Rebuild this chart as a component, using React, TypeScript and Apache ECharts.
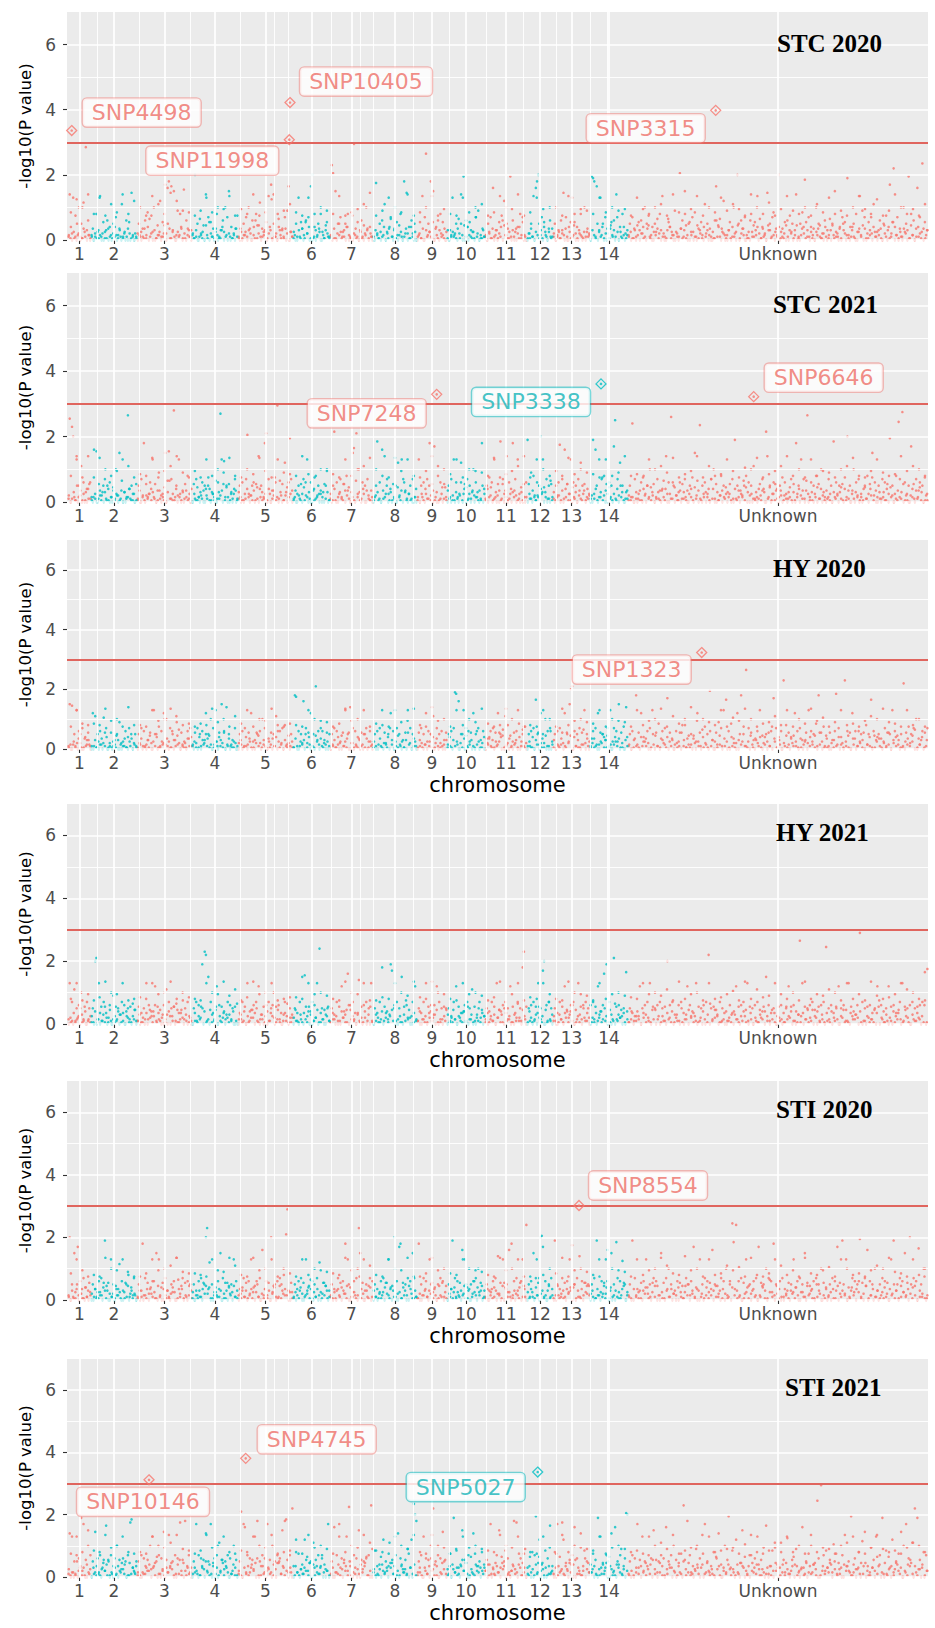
import React, { useEffect, useRef } from "react";
import * as echarts from "echarts";

// ---------- axes / categories ----------
const CHROMOSOMES = ["1", "2", "3", "4", "5", "6", "7", "8", "9", "10", "11", "12", "13", "14", "Unknown"];
const CHR_LENGTHS = [23, 46, 55, 46, 55, 37, 43, 44, 30, 38, 42, 26, 37, 38, 300];
const FIRST_START = 1;
const X_MIN = 0;
const X_MAX = 861;
const EXTRA_MINOR_X = [207, 293, 540];
const Y_MIN = 0;
const Y_MAX = 7;
const Y_TICKS = [0, 2, 4, 6];
const Y_MINOR = [1, 3, 5];
const THRESHOLD = 3;
const PANEL_TITLES = ["STC 2020", "STC 2021", "HY 2020", "HY 2021", "STI 2020", "STI 2021"];
const SHOW_X_NAME = [false, false, true, true, true, true];

// each character is one SNP: -log10(P) = index in CODE * CODE_STEP
const CODE = "0123456789abcdefghijklmnopqrstuvwxyzABCDEFGHIJKLMNOPQRSTUVWXYZ";
const CODE_STEP = 0.05;

// ---------- series values (one string per chromosome, last = Unknown) ----------
const STC2020 = [
  "2s84q1f03k2a1n5V0c31",
  "3702g51r24016c0831a2e0372m14020b0t2041",
  "4a2071c3h02f5k0193o2b4y0wA1x5u03i2g70v1c3620",
  "31E2a0d4190s3e0b2715g0216c0k30u281407f",
  "2051a3e0k70c31g94n0256b1r8y0s240d6172e0ix052",
  "13a0q2b701c4e0xE1802a5g0316b21",
  "2KF1u0a3e152a8g0210X31b06c204k71820",
  "20z41a0c3m0518e2071b03g20A4t081c2050",
  "03b1r0eR2a5A1u073c0g2b105",
  "1063q24a0d1s3D0c80b2150e2i03162",
  "20a4e1w0361b2f0o3a71D0c25081g3e020",
  "041a2r0wAE13e0b5207c12",
  "2a0361c4t0e2051q3b0804g21k0523",
  "0DCA2x06q3a1e0417b2c0s5082g3016",
  [
    "3a0e1629b0c41k07f2380a5d1g0r4206b8130i52",
    "0F7c2u13a05e0h2916b30m4a07201cx28d05o310",
    "6b02k40Ea1c73e0150g29b3r0d18240t6a1e3072",
    "E0521b9c0f4a16s0203h8Bb2e05170k3a9140c26",
    "1d0a3u24081e6b0C3028a1g05r2i0714b3e0m520",
    "6c10a4f08y2bI03e1720k5a0D1g3c07w2e1L0b36",
  ].join(""),
];
const STC2020_DENSE = [
  "31052a40172630",
  "2041630b5172048316025c741302",
  "0352718d4061350294a71620538140726",
  "4160235091b4207316852e401372",
  "1703526408c1927350461a20836174052",
  "5026173b48102637051942",
  "30714a5260831f472051936042",
  "0631528047d2613950274184a0",
  "241706352b08164370",
  "60253174a09283651e40172",
  "3051726048c93152607481b30",
  "1472053a61830527",
  "4025163708b29416305274",
  "0631a52804719362e051843",
  "2517036482a91053746201d85304271690b35207418263051c927403618259047031c526841730962h53817402650391a74162830572148036915270a43186205739e016482537092614b8305274619302845716",
];
const STC2020_MID = [
  "hpks", "gqfmhsgo", "kfrmgtoih", "fiqhkjrf", "jgsfhpgim", "hfqgki", "grfhjmt", "fiqkhsf",
  "hkrfj", "gfqhkm", "fhrkjsf", "hqjk", "kfrgji", "gqhkij",
  "fqjgkmfshgjrfkhqimjfskgnfjrigkfmhqgifkrjgpfiskgjfm",
];

const STC2021 = [
  "2P0KE31s0a4m1c0608b2",
  "30w2v0b4160e2a1c3071k40u2d0603R82a1501",
  "1a0e3A0425c1q3b07i2051u0dv2e1U3a0q5170b3g208",
  "0b2e1304c0a82f10651d0c2Sq0p3a0b1605e02",
  "2a0c15eF3041c0b2s8a13AG0e5027f1X0d4b1o60cDe0",
  "1305a2b0e14q02c071g3a0506b2k01",
  "20aH1c05e31b0g7206ux0G3k10c5a0e2170",
  "03aB1c0w2s5e0160b2a0o31q0c7105a2e030",
  "1q0a3c05e2A1b0y30m1c50291",
  "0a3e1q0c204o15b0e2a06k0c3172A05",
  "2a0f4c1q30b0B2e07s1c50A3e0q2061b03",
  "Cb2i0g41c3aE5q06e2a0b3",
  "20a4cz1e0w3b15q0c2a0e7o15b0324",
  "04C2wa0q3e1g0b5c2a0yO1e0o3a1062",
  [
    "1a3M0e2051c0g40a2k16b03e2708d1s0c5Q2a041",
    "6c0b2e170a3f0u2d0L1a5c0380e2k0b614g0a250",
    "3b1e0C2a7053d1g0c4a0m2602b1e80Hs3a05c172",
    "0a4f1c2063e0b1A5a0q2e07R03c1a5g0b2k06302",
    "e1a0B3c5062b0f1E2a07k0c3e1508a2g0b4u1c03",
    "a20e6c1b0D3a05g1Ne2T0c41a0y3b0e27c1a0f41",
  ].join(""),
];
const STC2021_DENSE = [
  "40261a3705182c",
  "1350274a6180392541706238150b",
  "27041b3586201743906d2518430627150",
  "0519362704a815302647b193052871",
  "63102854a7190362518074c3260149357",
  "2704159c36018245730a61",
  "5180362b749031d562807413",
  "1462073a58130947e6251038",
  "305182a4716029b3",
  "72041635c089152743601a8",
  "1839026471b5302867415903c",
  "0527314a869302d1",
  "61340728b51936042a7185",
  "2058136f4709315284a6027",
  "4130627185a3940261738502c94172630581947203651e82014739650281374a9605213847602915b8370452916038472d51603928417350624a91837052640319258f4706231859402736b1504827396015",
];
const STC2021_MID = [
  "gqfs", "frkgjqmf", "hgrfjmsif", "jfqgkirg", "fkhrjfqih", "gshfkj", "hfqgkmr", "kgfrjqg",
  "fjsgk", "hqfkji", "grfhjms", "fqkg", "jgrhki", "hfqgis",
  "ghfqkmirfhjsfmghqjflkrfhjmsgkfqgjifkmrgfjqighsjmkg",
];

const HY2020 = [
  "2u0t3a1q0c41e0726b30",
  "0o2m1a0c30l2e014b0261a0i3052c10e2704a1",
  "1a3e0c2061b40q2a0f1c3o0k25e1a06m3d0b2140c7e2",
  "20b4e1a0c36o2a1k0e3q50b2u1c0s2a0361e02",
  "0a3c1e20b5o0164a2c0k3e1071b0a2m05c3e0g2140a1",
  "1Az0c2a4w0e1b3o2a0G5c0e2163b0a",
  "0a2e1c3050b2q1a0s4e0c2170b3a1e05c20",
  "1a0c3e2q0b41a0o3c05e1a2061b0q3e0a250",
  "0b2e1a3o0c5a1m04e2a1c0306",
  "1a2c0eCB3w0a1q0e2c5b0o1a3e061c0",
  "0738c1e0b2o5a0d1m3g0920b4c1h05a2f0",
  "0a2c1e0x3b0o1a4k0c2e03",
  "1a0c2e3b0o1a4uEG0c2a1e0b3q0a25",
  "27c1e3o0b4a161e2q0538c5u0b1f0s2",
  [
    "2a0c17A3b0o2852c0e1q30b2h07c4e1y0b2603c1",
    "5b0g2k1731a0945o2b0d1f3a0D2605b1i3e0q2x0",
    "c0h2714o0aA5f2R1e0b3606c2q1948a0b2c0y5e1",
    "83c0K2g1b0749o2c0e1635b0q2c5a1h0A3b0f291",
    "2b061cB3e0840K2c1b0o3702c5a1b0g3a2x0c168",
    "a2705e1b3a0q4c2960a1I0b3f2a5e0k1736c0b2e",
  ].join(""),
];
const HY2020_DENSE = [
  "1305247a018362",
  "20615374b802153960427185a032",
  "0472136905a812543701c62940351728",
  "35108264a7930152864b03721540",
  "4602837150b94162053728c14063925",
  "1720536a480219637c4052",
  "0361849257b04138620a7153",
  "52071438e60293516b4072",
  "1640352a8170426b",
  "38162504a7913620c5148",
  "04726153b8902471536082d14",
  "251806a3471920c5",
  "6031742b59082613d470",
  "1472035a869130e52714068",
  "3062185740a92163857042b61937052841c6039275184063a25917480352f7160493825170648392b51704628315907c2460381957142b0683125749d03816",
];
const HY2020_MID = [
  "fqhg", "hgrjkfsg", "gfqjkrigh", "fhgrikfm", "hqfkjrgfh", "gfqkji", "fhrjkqf", "hgfqijr",
  "gfsjk", "fqgkir", "hfgrkqf", "gfqk", "frgjki", "hqfkji",
  "fqgjkrfmhgsjkigqfljrkfhimgqfkhrjlfiqghfjmkrihfqgkf",
];

const HY2021 = [
  "3q1e0m2a4c0k13b0e2a5",
  "1a0EG3q0b2e1704c20i1b3806e2c05a1b0d390",
  "2b071a3q0c4815o2b3906c1m0e5a2b0d1739k0a2e140",
  "0a2e1c3bC0KI2u0e1739o0c2b4806e1c3a0b20",
  "073e2b0q1849c0e2o063b1c0e2a5k0b3c1706e2d0a14",
  "0a271e3u0vb1806e2c4q0M1a3905b2",
  "1a360e2b0o4819w0c3e2706s1b0c4e2a0q1",
  "0a271e3A0b4816Cy2c0e3a1u0b2c4905e1o3",
  "2a073e1q0b4826c0o1e3a0b29",
  "0a251e3o0b4718c2e0a3m1b062e4905",
  "1a083e2b0q4916c0e2a3o1b074e2a0AK3b",
  "0a2c1e3b0q4a1yE0c2e3a0",
  "2a071e3b0o4816c2e093q1b0c4e2a0",
  "c1e3b0o481cw2C0e163G0b2c490a1x3",
  [
    "1a3705285o0a4c1e2q093a0c5e1a2b0E3c1e0642",
    "c0e1736o0c4815q0b2a0c3e1I0a2b4960e1a3082",
    "2c1706o3b0c2851q0b3a0c2e1948b0u2c073a105",
    "b2c071a3o4b0c2816R5q0b3a1c2e0948b1c3e0N2",
    "a1c072b3o0a4c192q0b5836c0W1e2a0b4c371a0o",
    "b0c381a2o4b0c1739e0q2b5a1c0e3a2b4c0e1x0z",
  ].join(""),
];
const HY2021_DENSE = [
  "0427135a628031",
  "51803726b4190352a61708431592",
  "2614073958c1724036805b2917436052",
  "07254a813962b0517346280d",
  "3618052947a13605827c41930275146",
  "492061735b8024917306a2",
  "1735028461c95307241806b2",
  "0641827359a20516f34072",
  "2803517c4690135a",
  "61493052781b36024a175",
  "37152604981a7350162d42950",
  "1840267b35091e26",
  "5206317948c01563a274",
  "04172683a51902d3645708",
  "1825307641b93052748162a03957214806d3951270468315e92704163852970431b58206173949502617384a05921736480251397f416028573194062735c1",
];
const HY2021_MID = [
  "gqfj", "fhrkjqfg", "hgqjkrgfh", "gfqkjrim", "fhrjkqfgh", "hgqjki", "gfrkjqf", "fhgqkir",
  "hgrkj", "gfqjki", "fhrkjqf", "hgqj", "gfrkji", "fqgjki",
  "hgqjkimfrgjkfqghjlfrgmhiqjgkfrgjimkfqgjfrighjqmkgf",
];

const STI2020 = [
  "3E0a2u17y0c41e0826b3",
  "0a2715c3e0bC1604q2a0937n1c05b2i0461e30",
  "2a06A3e1b0742c1u0q38b0e1620a5c0r1749e0b2c3a1",
  "1a063c2e0b4EK7o1a0583c2u0e1b6094a0q2c1",
  "3716e2b0c4q1805a2e0w37c1b0E49a0c2e16k3GW05b1",
  "1a03c6e0b2q4817c0a2e0o51b39602",
  "2a0716e3b0c4A1q0825c3e0Ku1b06a29e0c",
  "0a2715c3e0b4q1806E2c0yA1b3a0e9c4u162",
  "1A0a3e6c20q4b1730a9e2c051",
  "0a27C5e1c3b0w4q1860a2c5e0k3b916",
  "1a0637c2e0s4b1q08a5w2A3c0e61b0q92M",
  "0a2c5u1e3b0EFy2c06a1e3",
  "1C0a372e1b0c4q6z8a0e2s1c0b59a3",
  "0a2e1C3q0c4b18w06u2a0Be1c3p9a05",
  [
    "3a1C0e2716b0c4q81a05e2c930u1b0e7k2a0463c",
    "0b2915e3a0c4y1806q2a0e3c1b7w0a2946e1c0k3",
    "2a0NB7M1c3e0b4q81a06c2e0y3b9a1k0e5c2A0a4",
    "1c0e2736b0a4q18c0e5a2u0b3961c0e2a4k0b170",
    "3a0e1c6y0b2Ca4q0816e3c0a5D2b0e9w1c3a0k26",
    "0a3e1c2b07q4C16a0e2c5u3b0Ea1e9c0x2a4k103",
  ].join(""),
];
const STI2020_DENSE = [
  "20615a34718205",
  "4072153869b0241735061a928340",
  "16203748c5192073614850d2713096",
  "5031627a9480135276041b835926",
  "0482613759c2041736058219a473605",
  "2571840369d1527304b916",
  "3150728649a02513f7406182",
  "6204158b37920451863071e2",
  "1403726a58013b29",
  "04718252639a1704c385602",
  "27051864309b725016438c270",
  "5172083e46130927",
  "03914627580a16273b49",
  "4601735294c180362517b03",
  "2073516842b90351627408519a36270418536920741c8362015947302861d5397204165830529471a60382571946302857c14903726158403a619527483062f1",
];
const STI2020_MID = [
  "hqjf", "gfrkjqgf", "fhqjkmrih", "hgfqjirm", "gfrjkqfgh", "fqgkji", "hgrjkqm", "gfqkjrf",
  "fhrjk", "hgqkji", "gfrjkqf", "fqgk", "hrfjki", "gfqkji",
  "fqgjkrmhgsjkfqghmjlfrgfhqmgjfrhgjlfqkghfjmkrihfqgk",
];

const STI2021 = [
  "2s0q3a1e0c6C4y1b0u2e",
  "0a2t1c3e06b4x1a0e27c1k0b3952a0e1zB642a",
  "1a0e3c26b4k0q71a0e2c5t0b3r69a1e0c2z4b0A16e30",
  "0a3y2e1c6b0s4a1y07c2e0m3b91a6e0c24k1b0",
  "2aG0yw3e1c6b4q0A1a7e2c0y5b3k1a0e9c2u6ABb0e3I",
  "71o3f0582o4d19a0m6b3e27c0804y1",
  "1a0w3e2y6c0b4q1J7a0e2c5u0b3a9c1e0Ki",
  "3h0715d8o2a40m6927e1s0c853b1i06o2LEA",
  "1a3e0q6c2b0k4I1a7e0c2t5b0",
  "52f08C3i1607u4b92e0d3s1847a0g26",
  "4b81y0629e3u0d57h1c3048A2z0f6193i0",
  "61d3g0eD29o0851h0c2x37",
  "2g0y7d4zo1950b3e8w0c62s14h0a93",
  "83f0b1C5q2926e0d7s14w0a83i15cFE",
  [
    "2a0e1c3y6b0q4a17e2c0u5b3a9e1c0w2a6e0k3b1",
    "73f0Kb1A9e3205i82c6r0y3a4172g0d5s1806k3b",
    "D51h30o8209u6d4170e93c2q81b5j0x6271h0m48",
    "06g3b19p2047d8i1305w62a0f7k3891Nc0X4e2h6",
    "3b80l5f1926e0r47a3D18c05g29n7t0413j6b0q2",
    "7e0C29h1d60o35a8f2t0k4y1c79m0I3C5b08g1e4",
  ].join(""),
];
const STI2021_DENSE = [
  "51302a47160835",
  "0637215948b13062745c80192637",
  "3102748569d20416375028b194726",
  "2640175a38290614b57302861",
  "4106273859c01734620859a2714360",
  "0731526b49081726e3540",
  "2603815974a13602857d140",
  "5128043679b20417352f6081",
  "3610427c581039a2",
  "17053628b490152f73648",
  "4082517369a02147538c160",
  "2705183d49061724",
  "06135274980b2417c53",
  "3572016849a053186e2704",
  "1406273958b203715864092a5317460829351c7042865139702e46851320749618352b07461932850174693a25087413560297164d8302571946038b2715604",
];
const STI2021_MID = [
  "fqgk", "hgrjkqgf", "gfqkjmrih", "fhrjkqgf", "hgqkjrfgh", "gfrjki", "fqgkjrm", "hgfqkir",
  "gfrkj", "fhqjki", "hgrkjqf", "gfqj", "frgkji", "hqfjki",
  "ghfqkmirfhjkfqghijflrgfhjmqgkfrgjifkmqgfjrighfjmkg",
];

const PANEL_DATA = [STC2020, STC2021, HY2020, HY2021, STI2020, STI2021];
const PANEL_DENSE = [STC2020_DENSE, STC2021_DENSE, HY2020_DENSE, HY2021_DENSE, STI2020_DENSE, STI2021_DENSE];
const PANEL_MID = [STC2020_MID, STC2021_MID, HY2020_MID, HY2021_MID, STI2020_MID, STI2021_MID];

// significant SNPs: [name, position on genome axis, -log10(P)]
const HL_STC2020: [string, number, number][] = [
  ["SNP4498", 4.7, 3.36],
  ["SNP10405", 223, 4.22],
  ["SNP11998", 222.3, 3.08],
  ["SNP3315", 648.7, 3.98],
];
const HL_STC2021: [string, number, number][] = [
  ["SNP7248", 369.7, 3.29],
  ["SNP3338", 534, 3.61],
  ["SNP6646", 686.7, 3.22],
];
const HL_HY2020: [string, number, number][] = [["SNP1323", 634.7, 3.23]];
const HL_HY2021: [string, number, number][] = [];
const HL_STI2020: [string, number, number][] = [["SNP8554", 512, 3.02]];
const HL_STI2021: [string, number, number][] = [
  ["SNP10146", 82, 3.12],
  ["SNP4745", 178.7, 3.81],
  ["SNP5027", 470.7, 3.37],
];
const HIGHLIGHTS = [HL_STC2020, HL_STC2021, HL_HY2020, HL_HY2021, HL_STI2020, HL_STI2021];

// ---------- layout & style ----------
const LABEL_OFFSETS: Record<string, [number, number]> = {
  SNP4498: [70, -18],
  SNP10405: [76, -21],
  SNP11998: [-77, 21],
  SNP3315: [-70, 18],
  SNP7248: [-70, 19],
  SNP3338: [-70, 18],
  SNP6646: [70, -19],
  SNP1323: [-70, 17],
  SNP8554: [69, -20],
  SNP10146: [-6, 22],
  SNP4745: [71, -19],
  SNP5027: [-72, 15],
};
const GRID_TOPS = [12, 273, 540, 804, 1081, 1359];
const GRID_HEIGHTS = [228, 229, 209, 220, 219, 218];
const GRID_LEFT = 67;
const GRID_RIGHT = 7;
const TITLE_XY: [number, number][] = [
  [777, 43],
  [773, 304],
  [773, 568],
  [776, 832],
  [776, 1109],
  [785, 1387],
];
const RED = "#F8766D";
const CYAN = "#00BFC4";
const RED_TEXT = "#EE6F67";
const CYAN_TEXT = "#14B4B8";
const RED_BORDER = "rgba(240,120,112,0.6)";
const CYAN_BORDER = "rgba(0,185,190,0.65)";
const SANS = "DejaVu Sans";

const STARTS: number[] = (() => {
  let s = FIRST_START;
  return CHR_LENGTHS.map((l) => {
    const st = s;
    s += l;
    return st;
  });
})();
const CENTERS = STARTS.map((s, i) => s + CHR_LENGTHS[i] / 2);
const MINOR_X = CENTERS.slice(0, 13).map((c, i) => (c + CENTERS[i + 1]) / 2).concat(EXTRA_MINOR_X);

function chrIndexAt(x: number) {
  for (let k = 0; k < STARTS.length; k++) {
    if (x >= STARTS[k] && x < STARTS[k] + CHR_LENGTHS[k]) return k;
  }
  return STARTS.length - 1;
}

function decodeInto(panel: string[], red: number[][], cyan: number[][]) {
  panel.forEach((str, k) => {
    const n = str.length;
    for (let i = 0; i < n; i++) {
      const y = CODE.indexOf(str[i]) * CODE_STEP;
      const x = STARTS[k] + ((i + 0.5) / n) * CHR_LENGTHS[k];
      (k % 2 === 0 ? red : cyan).push([x, y]);
    }
  });
}

function labelFor(v: number) {
  const k = CENTERS.findIndex((c) => Math.abs(c - v) < 1e-6);
  return k >= 0 ? CHROMOSOMES[k] : "";
}

function buildOption() {
  const grid: any[] = [];
  const xAxis: any[] = [];
  const yAxis: any[] = [];
  const series: any[] = [];
  const graphic: any[] = [];

  PANEL_DATA.forEach((panel, i) => {
    grid.push({
      left: GRID_LEFT,
      right: GRID_RIGHT,
      top: GRID_TOPS[i],
      height: GRID_HEIGHTS[i],
      show: true,
      backgroundColor: "#EBEBEB",
      borderWidth: 0,
      borderColor: "transparent",
    });
    xAxis.push({
      type: "value",
      gridIndex: i,
      min: X_MIN,
      max: X_MAX,
      splitLine: { show: false },
      axisLine: { show: false },
      axisTick: { show: true, customValues: CENTERS, length: 4, lineStyle: { color: "#333", width: 1.1 } },
      axisLabel: {
        customValues: CENTERS,
        formatter: (v: number) => labelFor(v),
        color: "#4D4D4D",
        fontFamily: SANS,
        fontSize: 17,
        margin: 5,
      },
      name: SHOW_X_NAME[i] ? "chromosome" : "",
      nameLocation: "middle",
      nameGap: 25,
      nameTextStyle: { fontFamily: SANS, fontSize: 21, color: "#000" },
    });
    yAxis.push({
      type: "value",
      gridIndex: i,
      min: Y_MIN,
      max: Y_MAX,
      splitLine: { show: false },
      axisLine: { show: false },
      axisTick: { show: true, customValues: Y_TICKS, length: 4, lineStyle: { color: "#333", width: 1.1 } },
      axisLabel: {
        customValues: Y_TICKS,
        color: "#4D4D4D",
        fontFamily: SANS,
        fontSize: 17,
        margin: 11,
      },
      name: "-log10(P value)",
      nameLocation: "middle",
      nameGap: 29,
      nameRotate: 90,
      nameTextStyle: { fontFamily: SANS, fontSize: 16.5, color: "#000" },
    });

    const gridLines: any[] = [];
    CENTERS.forEach((c) => gridLines.push({ xAxis: c, lineStyle: { color: "#fff", width: 1.7, type: "solid" } }));
    MINOR_X.forEach((c) => gridLines.push({ xAxis: c, lineStyle: { color: "#fff", width: 0.9, type: "solid" } }));
    Y_TICKS.forEach((v) => gridLines.push({ yAxis: v, lineStyle: { color: "#fff", width: 1.7, type: "solid" } }));
    Y_MINOR.forEach((v) => gridLines.push({ yAxis: v, lineStyle: { color: "#fff", width: 0.9, type: "solid" } }));

    series.push({
      type: "scatter",
      xAxisIndex: i,
      yAxisIndex: i,
      data: [],
      silent: true,
      z: 1,
      markLine: { silent: true, symbol: ["none", "none"], label: { show: false }, data: gridLines },
    });

    const red: number[][] = [];
    const cyan: number[][] = [];
    decodeInto(PANEL_DENSE[i], red, cyan);
    decodeInto(PANEL_MID[i], red, cyan);
    decodeInto(panel, red, cyan);
    series.push({
      type: "scatter",
      xAxisIndex: i,
      yAxisIndex: i,
      data: red,
      symbolSize: 2.6,
      itemStyle: { color: RED },
      silent: true,
      z: 3,
    });
    series.push({
      type: "scatter",
      xAxisIndex: i,
      yAxisIndex: i,
      data: cyan,
      symbolSize: 2.6,
      itemStyle: { color: CYAN },
      silent: true,
      z: 3,
    });
    series.push({
      type: "scatter",
      xAxisIndex: i,
      yAxisIndex: i,
      data: [],
      silent: true,
      z: 4,
      markLine: {
        silent: true,
        symbol: ["none", "none"],
        label: { show: false },
        data: [{ yAxis: THRESHOLD }],
        lineStyle: { color: "#E0655E", width: 1.8, type: "solid" },
      },
    });

    const hl = HIGHLIGHTS[i];
    series.push({
      type: "scatter",
      xAxisIndex: i,
      yAxisIndex: i,
      silent: true,
      z: 5,
      symbol: "diamond",
      symbolSize: 10,
      data: hl.map(([name, x, y]) => {
        const cy = chrIndexAt(x) % 2 === 1;
        return {
          name,
          value: [x, y],
          itemStyle: { color: "rgba(0,0,0,0)", borderColor: cy ? CYAN : RED, borderWidth: 1.3 },
          label: {
            show: true,
            position: "inside",
            offset: LABEL_OFFSETS[name],
            formatter: "{b}",
            fontFamily: SANS,
            fontSize: 22,
            lineHeight: 22,
            color: cy ? CYAN_TEXT : RED_TEXT,
            backgroundColor: "#fff",
            borderColor: cy ? CYAN_BORDER : RED_BORDER,
            borderWidth: 1.4,
            borderRadius: 4,
            padding: [3, 9, 3, 9],
          },
        };
      }),
    });
    series.push({
      type: "scatter",
      xAxisIndex: i,
      yAxisIndex: i,
      silent: true,
      z: 5,
      symbolSize: 2.6,
      data: hl.map(([name, x, y]) => ({
        name,
        value: [x, y],
        itemStyle: { color: chrIndexAt(x) % 2 === 1 ? CYAN : RED },
      })),
    });

    graphic.push({
      type: "text",
      x: TITLE_XY[i][0],
      y: TITLE_XY[i][1],
      silent: true,
      z: 10,
      style: {
        text: PANEL_TITLES[i],
        font: 'bold 25px "Liberation Serif"',
        fill: "#000",
        verticalAlign: "middle",
        textVerticalAlign: "middle",
      },
    });
  });

  return {
    animation: false,
    backgroundColor: "#fff",
    grid,
    xAxis,
    yAxis,
    series,
    graphic,
  };
}

export default function App() {
  const ref = useRef<HTMLDivElement>(null);
  useEffect(() => {
    if (!ref.current) return;
    const chart = echarts.init(ref.current, null, { renderer: "svg" });
    chart.setOption(buildOption() as any);
    return () => chart.dispose();
  }, []);
  return (
    <div
      ref={ref}
      style={{ position: "absolute", left: 0, top: 0, width: 935, height: 1628, background: "#fff" }}
    />
  );
}
